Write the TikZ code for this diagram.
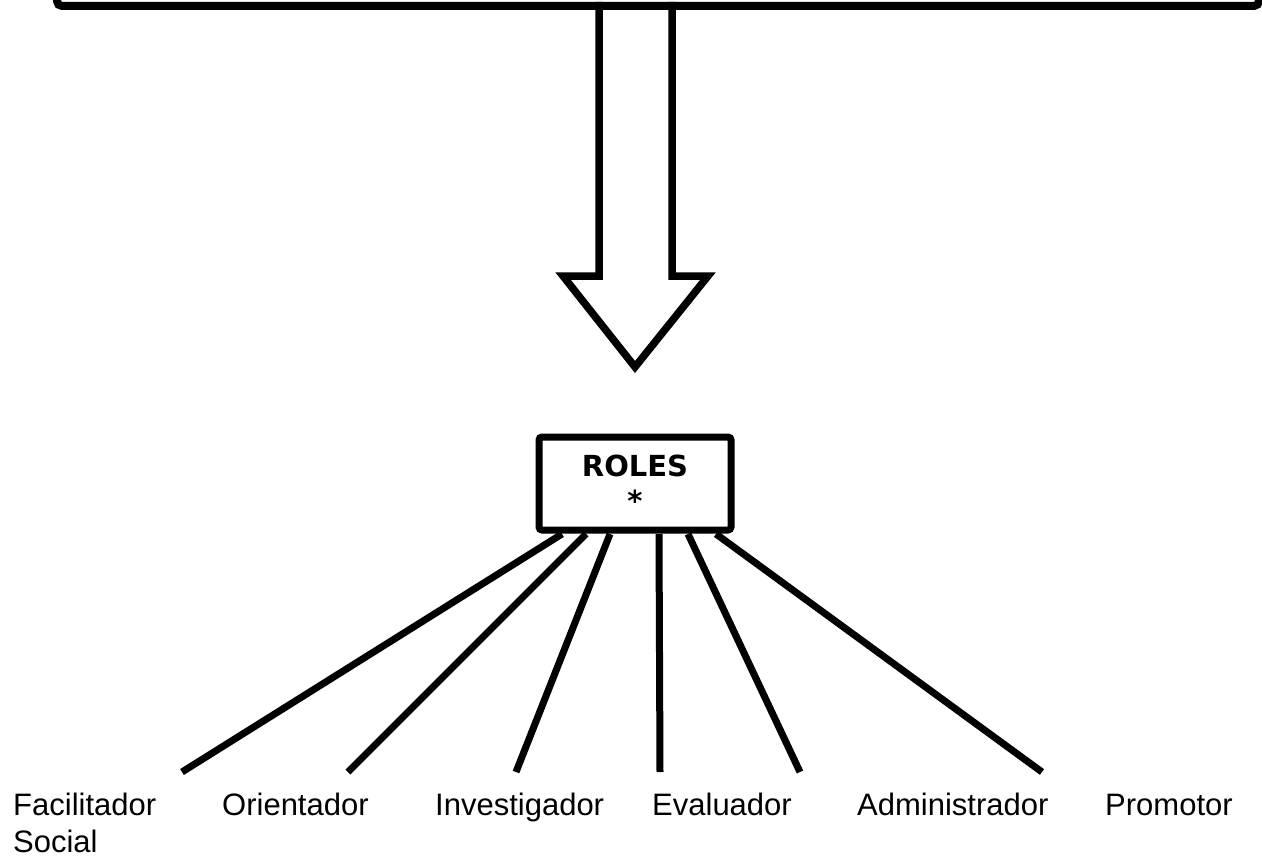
\documentclass[tikz,border=0pt]{standalone}
\usepackage{fontspec}
\setmainfont{Liberation Sans}
\newfontfamily\verdanalike{DejaVu Sans}
\begin{document}
\begin{tikzpicture}[x=1pt,y=-1pt,
  thickline/.style={line width=7pt, line cap=butt},
  rolebox/.style={draw, line width=7pt, rounded corners=3pt, fill=white,
     minimum width=192pt, minimum height=93pt, inner sep=0pt,
     align=center, font=\verdanalike\bfseries\fontsize{29}{35}\selectfont},
  lbl/.style={anchor=base west, inner sep=0pt, align=left,
     font=\fontsize{31}{37}\selectfont}]
\useasboundingbox (0,0) rectangle (1262,859);
% hollow arrow
\draw[line width=7.5pt, fill=white, line join=miter]
  (599,2) -- (599,276) -- (563,276) -- (635,367) -- (708,276) -- (672,276) -- (672,2);
% bottom edge of the upper box
\draw[line width=8pt, rounded corners=5pt] (57,-20) -- (57,6) -- (1259,6) -- (1259,-20);
% roles box
\node[rolebox] (roles) at (635,483.5) {ROLES\\*};
% start points on box bottom
\coordinate (s1) at (562,534);
\coordinate (s2) at (586,534);
\coordinate (s3) at (610,534);
\coordinate (s4) at (659,534);
\coordinate (s5) at (688,534);
\coordinate (s6) at (716,534);
% end points
\coordinate (e1) at (182,772);
\coordinate (e2) at (348,772);
\coordinate (e3) at (516,772);
\coordinate (e4) at (660,772);
\coordinate (e5) at (800,772);
\coordinate (e6) at (1042,772);
\foreach \i in {1,...,6} \draw[thickline] (s\i) -- (e\i);
% labels
\node[lbl] (l1) at (13,852) {Facilitador\\Social};
\node[lbl] (l2) at (222,815) {Orientador};
\node[lbl] (l3) at (435,815) {Investigador};
\node[lbl] (l4) at (652,815) {Evaluador};
\node[lbl] (l5) at (857,815) {Administrador};
\node[lbl] (l6) at (1105,815) {Promotor};
\end{tikzpicture}
\end{document}
